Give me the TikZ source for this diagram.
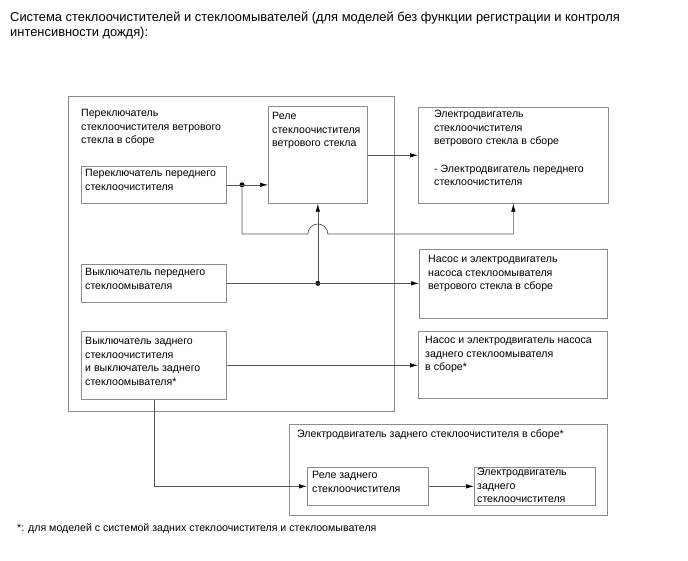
\documentclass[tikz,border=0pt]{standalone}
\usepackage{fontspec}
\setmainfont{Liberation Sans}
\usetikzlibrary{arrows.meta}
\definecolor{FrameGray}{HTML}{8C8C8C}
\definecolor{WireGray} {HTML}{555555}
\newcommand{\boxfont}{\fontsize{10.6}{13.6}\selectfont}

\tikzset{
  unit/.style={draw=FrameGray,line width=0.7pt,anchor=north west,inner sep=0pt},
  tag/.style={anchor=north west,inner sep=0pt,align=left,font=\boxfont},
  wire/.style={draw=WireGray,line width=0.7pt},
  feed/.style={wire,-{Latex[length=8pt,width=4.5pt,color=black]}},
  joint/.style={circle,fill=black,inner sep=0pt,minimum size=5pt},
}

\begin{document}
\begin{tikzpicture}[x=1pt,y=-1pt]
  \useasboundingbox (0,0) rectangle (688,560);

  \node[tag,font=\fontsize{12.9}{15}\selectfont] (title) at (10,12) {%
    Система стеклоочистителей и стеклоомывателей (для моделей без функции регистрации и контроля\\
    интенсивности дождя):};

  % switch assembly with its inner units
  \node[unit,minimum width=326pt,minimum height=315pt,
        label={[tag,xshift=13pt,yshift=-13pt]north west:{Переключатель\\стеклоочистителя ветрового\\стекла в сборе}}]
        (swasm) at (68,96) {};
  \node[unit,minimum width=99pt,minimum height=97pt,
        label={[tag,xshift=4pt,yshift=-6pt]north west:{Реле\\стеклоочистителя\\ветрового стекла}}]
        (relay) at (268,106) {};
  \node[unit,minimum width=145pt,minimum height=37pt,
        label={[tag,xshift=4pt,yshift=-3pt]north west:{Переключатель переднего\\стеклоочистителя}}]
        (fwsw) at (81,166) {};
  \node[unit,minimum width=145pt,minimum height=38pt,
        label={[tag,xshift=4pt,yshift=-4pt]north west:{Выключатель переднего\\стеклоомывателя}}]
        (wsw) at (81,264) {};
  \node[unit,minimum width=145pt,minimum height=68pt,
        label={[tag,xshift=4pt,yshift=-6pt]north west:{Выключатель заднего\\стеклоочистителя\\и выключатель заднего\\стеклоомывателя*}}]
        (rsw) at (81,331) {};

  % loads
  \node[unit,minimum width=190pt,minimum height=96pt,
        label={[tag,xshift=16pt,yshift=-3pt]north west:{Электродвигатель\\стеклоочистителя\\ветрового стекла в сборе\\[13.6pt]- Электродвигатель переднего\\стеклоочистителя}}]
        (fmotor) at (418,107) {};
  \node[unit,minimum width=188pt,minimum height=69pt,
        label={[tag,xshift=9pt,yshift=-6pt]north west:{Насос и электродвигатель\\насоса стеклоомывателя\\ветрового стекла в сборе}}]
        (fpump) at (419,249) {};
  \node[unit,minimum width=189pt,minimum height=67pt,
        label={[tag,xshift=7pt,yshift=-5pt]north west:{Насос и электродвигатель насоса\\заднего стеклоомывателя\\в сборе*}}]
        (rpump) at (418,331) {};

  % rear wiper motor assembly
  \node[unit,minimum width=318pt,minimum height=91pt,
        label={[tag,xshift=8pt,yshift=-6pt]north west:{Электродвигатель заднего стеклоочистителя в сборе*}}]
        (rasm) at (289,424) {};
  \node[unit,minimum width=121pt,minimum height=38pt,
        label={[tag,xshift=5pt,yshift=-4pt]north west:{Реле заднего\\стеклоочистителя}}]
        (rrelay) at (307,467) {};
  \node[unit,minimum width=121pt,minimum height=38pt,
        label={[tag,xshift=3pt,yshift=-1pt]north west:{Электродвигатель\\заднего\\стеклоочистителя}}]
        (rmotor) at (474,467) {};

  \node[tag] (note) at (17,523) {*: для моделей с системой задних стеклоочистителя и стеклоомывателя};

  % junctions
  \node[joint] (fdot) at (242,0 |- fwsw.east) {};
  \node[joint] (wdot) at (relay.south |- wsw.east) {};
  \coordinate (hopL) at ([xshift=-10pt]wdot |- 0,234);
  \coordinate (rbend) at (rsw.south |- rrelay.west);

  % connectors
  \draw[feed] (fwsw.east) -- (relay.west |- fwsw.east);
  \draw[feed] (relay.east |- fmotor.west) -- (fmotor.west);
  \draw[feed] (fdot) |- (hopL) arc[start angle=180,end angle=0,radius=10pt] -| (fmotor.south);
  \draw[feed] (wsw.east) -- (fpump.west |- wsw.east);
  \draw[feed] (wdot) -- (relay.south);
  \draw[feed] (rsw.east) -- (rpump.west |- rsw.east);
  \draw[feed] (rsw.south) -- (rbend) -- (rrelay.west);
  \draw[feed] (rrelay.east) -- (rmotor.west);
\end{tikzpicture}
\end{document}
